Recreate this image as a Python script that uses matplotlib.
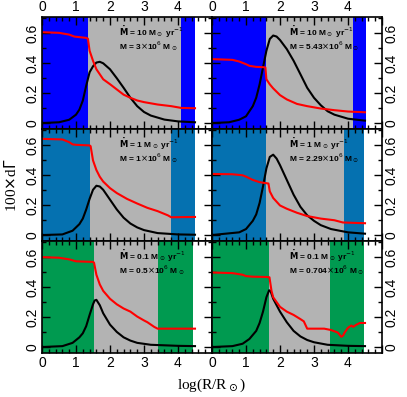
#!/usr/bin/env python3

import matplotlib
matplotlib.use("Agg")
import matplotlib.pyplot as plt
from matplotlib.ticker import MultipleLocator

# panel order: top-left, top-right, mid-left, mid-right, bottom-left, bottom-right
mdot_labels = ["10", "10", "1", "1", "0.1", "0.1"]
mass_labels = ["3", "5.43", "1", "2.29", "0.5", "0.704"]
shade_colors = ["#0000ff", "#0000ff", "#0571b0", "#0571b0", "#009a50", "#009a50"]
# (inner edge, outer edge, end of data) of the coloured / grey zones
zones = [(1.35, 4.1, 4.5), (1.58, 4.15, 4.53), (1.42, 3.8, 4.5),
         (1.59, 3.88, 4.47), (1.52, 3.4, 4.45), (1.69, 3.47, 4.47)]

red_x = [
    [0, 0.5, 0.8, 0.95, 1.3, 1.35, 1.4, 1.5, 1.6, 1.8, 2.0, 2.2, 2.4, 2.6, 2.8,
     3.0, 3.4, 3.8, 4.1, 4.5],
    [0, 0.6, 0.8, 1.0, 1.1, 1.3, 1.5, 1.57, 1.6, 1.7, 1.8, 2.0, 2.2, 2.5, 2.8,
     3.2, 3.6, 4.0, 4.5],
    [0, 0.6, 0.8, 0.9, 1.0, 1.4, 1.43, 1.5, 1.6, 1.7, 1.8, 2.0, 2.2, 2.5, 2.8,
     3.1, 3.4, 3.7, 3.8, 4.5],
    [0, 0.6, 0.9, 1.0, 1.2, 1.4, 1.6, 1.66, 1.7, 1.8, 2.0, 2.2, 2.5, 2.8, 3.2,
     3.6, 3.85, 4.5],
    [0, 0.5, 0.8, 1.0, 1.5, 1.53, 1.6, 1.7, 1.8, 2.0, 2.2, 2.4, 2.6, 2.8, 3.0,
     3.1, 3.3, 3.4, 4.5],
    [0, 0.6, 0.9, 1.0, 1.2, 1.6, 1.69, 1.75, 1.8, 2.0, 2.2, 2.4, 2.6, 2.7, 2.8,
     3.0, 3.3, 3.5, 3.7, 3.8, 3.85, 3.9, 4.0, 4.1, 4.15, 4.25, 4.35, 4.5],
]
red_y = [
    [0.608, 0.604, 0.592, 0.579, 0.57, 0.565, 0.484, 0.417, 0.36, 0.293, 0.26,
     0.225, 0.19, 0.169, 0.151, 0.14, 0.124, 0.113, 0.101, 0.099],
    [0.428, 0.423, 0.412, 0.394, 0.383, 0.376, 0.374, 0.372, 0.293, 0.259,
     0.232, 0.187, 0.158, 0.128, 0.113, 0.097, 0.086, 0.077, 0.072],
    [0.644, 0.64, 0.622, 0.607, 0.604, 0.60, 0.595, 0.50, 0.435, 0.39, 0.358,
     0.314, 0.281, 0.242, 0.211, 0.182, 0.16, 0.132, 0.119, 0.121],
    [0.409, 0.407, 0.40, 0.391, 0.369, 0.354, 0.347, 0.345, 0.292, 0.248,
     0.198, 0.176, 0.149, 0.127, 0.11, 0.099, 0.084, 0.079],
    [0.602, 0.598, 0.587, 0.574, 0.57, 0.565, 0.484, 0.419, 0.376, 0.323,
     0.286, 0.258, 0.237, 0.204, 0.178, 0.166, 0.135, 0.123, 0.123],
    [0.499, 0.495, 0.484, 0.475, 0.471, 0.469, 0.467, 0.376, 0.333, 0.269,
     0.237, 0.215, 0.187, 0.172, 0.123, 0.123, 0.123, 0.114, 0.097, 0.069,
     0.075, 0.097, 0.129, 0.144, 0.135, 0.15, 0.161, 0.161],
]

black_x = [
    [0, 0.5, 0.8, 1.0, 1.1, 1.2, 1.3, 1.4, 1.5, 1.6, 1.7, 1.8, 2.0, 2.2, 2.4,
     2.6, 2.8, 3.0, 3.2, 3.6, 4.0, 4.5],
    [0, 0.5, 0.8, 1.0, 1.2, 1.3, 1.4, 1.5, 1.6, 1.7, 1.8, 1.9, 2.0, 2.2, 2.4,
     2.6, 2.8, 3.0, 3.2, 3.4, 3.6, 4.0, 4.5],
    [0, 0.6, 0.9, 1.1, 1.2, 1.3, 1.4, 1.5, 1.6, 1.7, 1.8, 2.0, 2.2, 2.4, 2.6,
     2.8, 3.0, 3.4, 4.0, 4.5],
    [0, 0.8, 1.0, 1.2, 1.3, 1.4, 1.5, 1.6, 1.7, 1.8, 1.9, 2.0, 2.2, 2.4, 2.6,
     2.8, 3.0, 3.2, 3.5, 4.0, 4.5],
    [0, 0.6, 0.9, 1.1, 1.2, 1.3, 1.4, 1.5, 1.55, 1.6, 1.7, 1.8, 2.0, 2.2, 2.4,
     2.6, 2.8, 3.2, 4.0, 4.5],
    [0, 0.6, 0.9, 1.1, 1.3, 1.4, 1.5, 1.6, 1.68, 1.72, 1.8, 2.0, 2.2, 2.4, 2.6,
     2.8, 3.0, 3.4, 4.0, 4.5],
]
black_y = [
    [0, 0.005, 0.022, 0.056, 0.09, 0.15, 0.25, 0.34, 0.38, 0.405, 0.41, 0.40,
     0.36, 0.30, 0.236, 0.169, 0.113, 0.074, 0.05, 0.023, 0.011, 0.005],
    [0, 0.005, 0.022, 0.045, 0.113, 0.169, 0.259, 0.372, 0.484, 0.563, 0.586,
     0.579, 0.556, 0.495, 0.417, 0.327, 0.236, 0.169, 0.119, 0.079, 0.056,
     0.029, 0.016],
    [0, 0.004, 0.029, 0.073, 0.11, 0.171, 0.242, 0.303, 0.33, 0.325, 0.303,
     0.237, 0.171, 0.116, 0.077, 0.051, 0.033, 0.013, 0.004, 0.002],
    [0, 0.018, 0.04, 0.095, 0.138, 0.215, 0.325, 0.446, 0.523, 0.538, 0.512,
     0.468, 0.369, 0.27, 0.189, 0.132, 0.095, 0.066, 0.04, 0.018, 0.009],
    [0, 0.006, 0.028, 0.065, 0.092, 0.14, 0.215, 0.286, 0.312, 0.316, 0.28,
     0.226, 0.15, 0.101, 0.065, 0.043, 0.028, 0.015, 0.008, 0.006],
    [0, 0.006, 0.022, 0.054, 0.108, 0.161, 0.237, 0.333, 0.38, 0.376, 0.323,
     0.237, 0.166, 0.108, 0.071, 0.047, 0.032, 0.015, 0.008, 0.006],
]


def main():
    plt.rcParams["font.family"] = ["Liberation Sans", "DejaVu Sans"]
    fig = plt.figure(figsize=(4.07, 3.97), dpi=100)
    left = 42 / 407.
    w = 170 / 407.
    bot = 1 - 353 / 397.
    h = 112 / 397.

    for i in range(6):
        row, col = divmod(i, 2)
        ax = fig.add_axes([left + col * w, bot + (2 - row) * h, w, h])
        x1, x2, x3 = zones[i]
        ax.axvspan(0, x1, color=shade_colors[i], lw=0)
        ax.axvspan(x1, x2, color="#b3b3b3", lw=0)
        ax.axvspan(x2, x3, color=shade_colors[i], lw=0)
        ax.plot(black_x[i], black_y[i], color="black", lw=1.5)
        ax.plot(red_x[i], red_y[i], color="#ff0000", lw=1.5)

        ax.set_xlim(0, 5)
        ax.set_ylim(-0.04, 0.71)
        ax.set_xticks([0, 1, 2, 3, 4, 5])
        ax.set_xticklabels(["0", "1", "2", "3", "4", ""])
        ax.xaxis.set_minor_locator(MultipleLocator(0.2))
        ax.set_yticks([0, 0.2, 0.4, 0.6])
        ax.set_yticklabels(["0", "0.2", "0.4", "0.6"], rotation=90, va="center")
        ax.yaxis.set_minor_locator(MultipleLocator(0.1))
        ax.tick_params(which="both", direction="in", top=True, right=True,
                       labelsize=10, width=1, pad=2)
        ax.tick_params(which="major", length=6)
        ax.tick_params(which="minor", length=3)
        ax.tick_params(axis="x", labeltop=(row == 0), labelbottom=(row == 2))
        ax.tick_params(axis="y", labelleft=(col == 0), labelright=(col == 1))
        for s in ax.spines.values():
            s.set_linewidth(1.2)

        ax.text(2.26, 0.585, r"$\mathbf{\dot{M}}$ = %s M$_\odot$ yr$^{-1}$" % mdot_labels[i],
                fontsize=6, fontweight="bold", va="baseline")
        ax.text(2.26, 0.49, r"M = %s$\times$10$^6$ M$_\odot$" % mass_labels[i],
                fontsize=6, fontweight="bold", va="baseline")

    fig.text(0.027, 1 - 185 / 397., r"100$\times$d$\Gamma$", rotation=90,
             ha="center", va="center", fontsize=11, family="Liberation Serif")
    fig.text(212 / 407., 1 - 385 / 397., r"log(R/R$_\odot$)", ha="center",
             va="center", fontsize=11, family="Liberation Serif")

    fig.savefig("out.png", dpi=100)


if __name__ == "__main__":
    main()
